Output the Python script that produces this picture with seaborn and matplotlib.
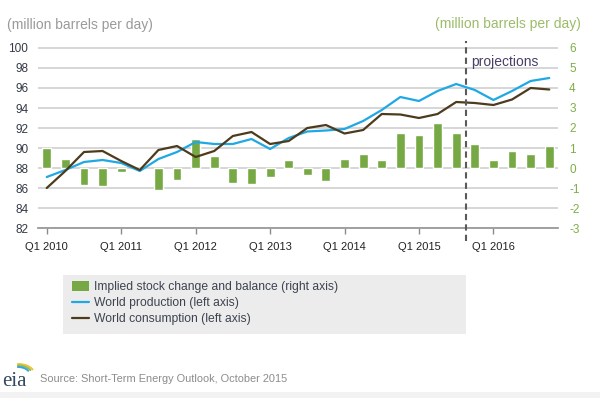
import numpy as np
import pandas as pd
import matplotlib
matplotlib.use("Agg")
import matplotlib.pyplot as plt
import seaborn as sns
from matplotlib.patches import Patch, Rectangle
from matplotlib.lines import Line2D

# quarterly data Q1 2010 .. Q4 2016 (million barrels per day)
production = [87.1, 87.8, 88.6, 88.8, 88.5, 87.7, 88.9, 89.6,
              90.6, 90.4, 90.4, 90.9, 89.9, 91.0, 91.65, 91.75,
              91.9, 92.7, 93.8, 95.1, 94.7, 95.7, 96.4, 95.8,
              94.8, 95.7, 96.7, 97.0]
consumption = [86.0, 87.7, 89.6, 89.7, 88.7, 87.8, 89.8, 90.2,
               89.1, 89.7, 91.2, 91.6, 90.4, 90.7, 92.0, 92.3,
               91.45, 91.8, 93.4, 93.35, 93.0, 93.4, 94.6, 94.5,
               94.3, 94.85, 96.0, 95.85]
stock_change = [1.0, 0.45, -0.85, -0.9, -0.22, 0.0, -1.12, -0.62,
                1.45, 0.62, -0.75, -0.8, -0.45, 0.38, -0.33, -0.67,
                0.45, 0.72, 0.4, 1.75, 1.67, 2.25, 1.75, 1.2,
                0.4, 0.86, 0.68, 1.08]
tick_labels = ["Q1 2010", "Q1 2011", "Q1 2012", "Q1 2013",
               "Q1 2014", "Q1 2015", "Q1 2016"]
left_ticks = [82, 84, 86, 88, 90, 92, 94, 96, 98, 100]
right_ticks = [-3, -2, -1, 0, 1, 2, 3, 4, 5, 6]
projection_start = 22.5

df = pd.DataFrame({"q": np.arange(len(production)),
                   "production": production,
                   "consumption": consumption,
                   "stock": stock_change})

sns.set_theme(style="white")
plt.rcParams["font.family"] = ["Liberation Sans", "DejaVu Sans"]

green = "#76a844"
blue = "#1fa8e3"
brown = "#4e3b1d"
grid_c = "#d6d6d6"

fig = plt.figure(figsize=(6, 3.98), dpi=100)
ax = fig.add_axes([38 / 600, 1 - 228 / 398, 520 / 600, 183 / 398])
ax2 = ax.twinx()
ax.set_zorder(2)
ax2.set_zorder(1)
ax.patch.set_visible(False)

# bars on right axis
sns.barplot(data=df, x="q", y="stock", native_scale=True, color=green,
            saturation=1, width=0.48, ax=ax2, zorder=3)
ax2.set_ylim(-3, 6.15)
ax2.set_yticks(right_ticks)
ax2.set_yticklabels([str(t) for t in right_ticks])
ax2.yaxis.grid(True, color=grid_c, linewidth=1.4, zorder=0)
ax2.set_axisbelow(True)
ax2.tick_params(axis="y", length=0, pad=8, labelsize=8.5, labelcolor="#7fae48")
ax2.set_ylabel("")
ax2.set_xlabel("")

# lines on left axis
sns.lineplot(data=df, x="q", y="production", color=blue, linewidth=1.6, ax=ax)
sns.lineplot(data=df, x="q", y="consumption", color=brown, linewidth=1.6, ax=ax)
ax.set_ylim(82, 100.3)
ax.set_yticks(left_ticks)
ax.set_yticklabels([str(t) for t in left_ticks])
ax.tick_params(axis="y", length=0, pad=7, labelsize=8.5, labelcolor="#333a45")
ax.set_ylabel("")
ax.set_xlabel("")

ax.set_xlim(-0.47, 27.47)
ax.set_xticks([0, 4, 8, 12, 16, 20, 24])
ax.set_xticklabels(tick_labels)
ax.tick_params(axis="x", direction="out", length=4, width=1, color="#8a8a8a",
               pad=6, labelsize=8, labelcolor="#222222", bottom=True)

for a in (ax, ax2):
    for s in a.spines.values():
        s.set_visible(False)
ax.spines["bottom"].set_visible(True)
ax.spines["bottom"].set_color("#9a9a9a")
ax.spines["bottom"].set_linewidth(1.3)

# projections divider
ax.axvline(projection_start, ymin=-0.07, ymax=1.02, color="#5a5a5a",
           linestyle=(0, (3, 2)), linewidth=1.5, clip_on=False, zorder=4)
ax.text(projection_start + 0.3, 98.6, "projections", fontsize=10,
        color="#4a3f66", ha="left", va="center")

# axis unit labels
fig.text(7 / 600, 1 - 25 / 398, "(million barrels per day)", fontsize=10,
         color="#9a9a9a", ha="left", va="center")
fig.text(581 / 600, 1 - 24 / 398, "(million barrels per day)", fontsize=10,
         color="#9cbc6a", ha="right", va="center")

# legend on gray box
fig.patches.append(Rectangle((63 / 600, 1 - 334 / 398), 403 / 600, 59 / 398,
                             transform=fig.transFigure, facecolor="#ececec",
                             edgecolor="none", zorder=0))
handles = [Patch(facecolor=green, edgecolor="none"),
           Line2D([], [], color=blue, linewidth=1.6),
           Line2D([], [], color=brown, linewidth=1.6)]
labels = ["Implied stock change and balance (right axis)",
          "World production (left axis)",
          "World consumption (left axis)"]
fig.legend(handles, labels, loc="upper left",
           bbox_to_anchor=(72 / 600, 1 - 281 / 398), frameon=False,
           fontsize=8.7, labelcolor="#3d4450", handlelength=1.4,
           handleheight=0.9, handletextpad=0.45, labelspacing=0.32,
           borderpad=0, borderaxespad=0)

# source line with eia mark
fig.text(40 / 600, 1 - 379 / 398, "Source: Short-Term Energy Outlook, October 2015",
         fontsize=7.9, color="#8c8c8c", ha="left", va="center")
fig.text(2 / 600, 1 - 382 / 398, "eia", fontsize=15, family="Liberation Serif",
         color="#34495e", ha="left", va="center")
logo = fig.add_axes([8 / 600, 1 - 374 / 398, 28 / 600, 12 / 398])
logo.axis("off")
arc_t = np.linspace(0.15, 0.5, 30) * np.pi
for r, c in [(1.0, "#f2c230"), (0.85, "#8cc152"), (0.7, "#3ba3d9")]:
    logo.plot(r * np.cos(arc_t), r * np.sin(arc_t) - 0.2, color=c, linewidth=1.4)
logo.set_xlim(-0.6, 1.1)
logo.set_ylim(-0.2, 1.0)

fig.patches.append(Rectangle((0, 0), 1, 6 / 398, transform=fig.transFigure,
                             facecolor="#f2f2f2", edgecolor="none"))

fig.savefig("out.png", dpi=100)
